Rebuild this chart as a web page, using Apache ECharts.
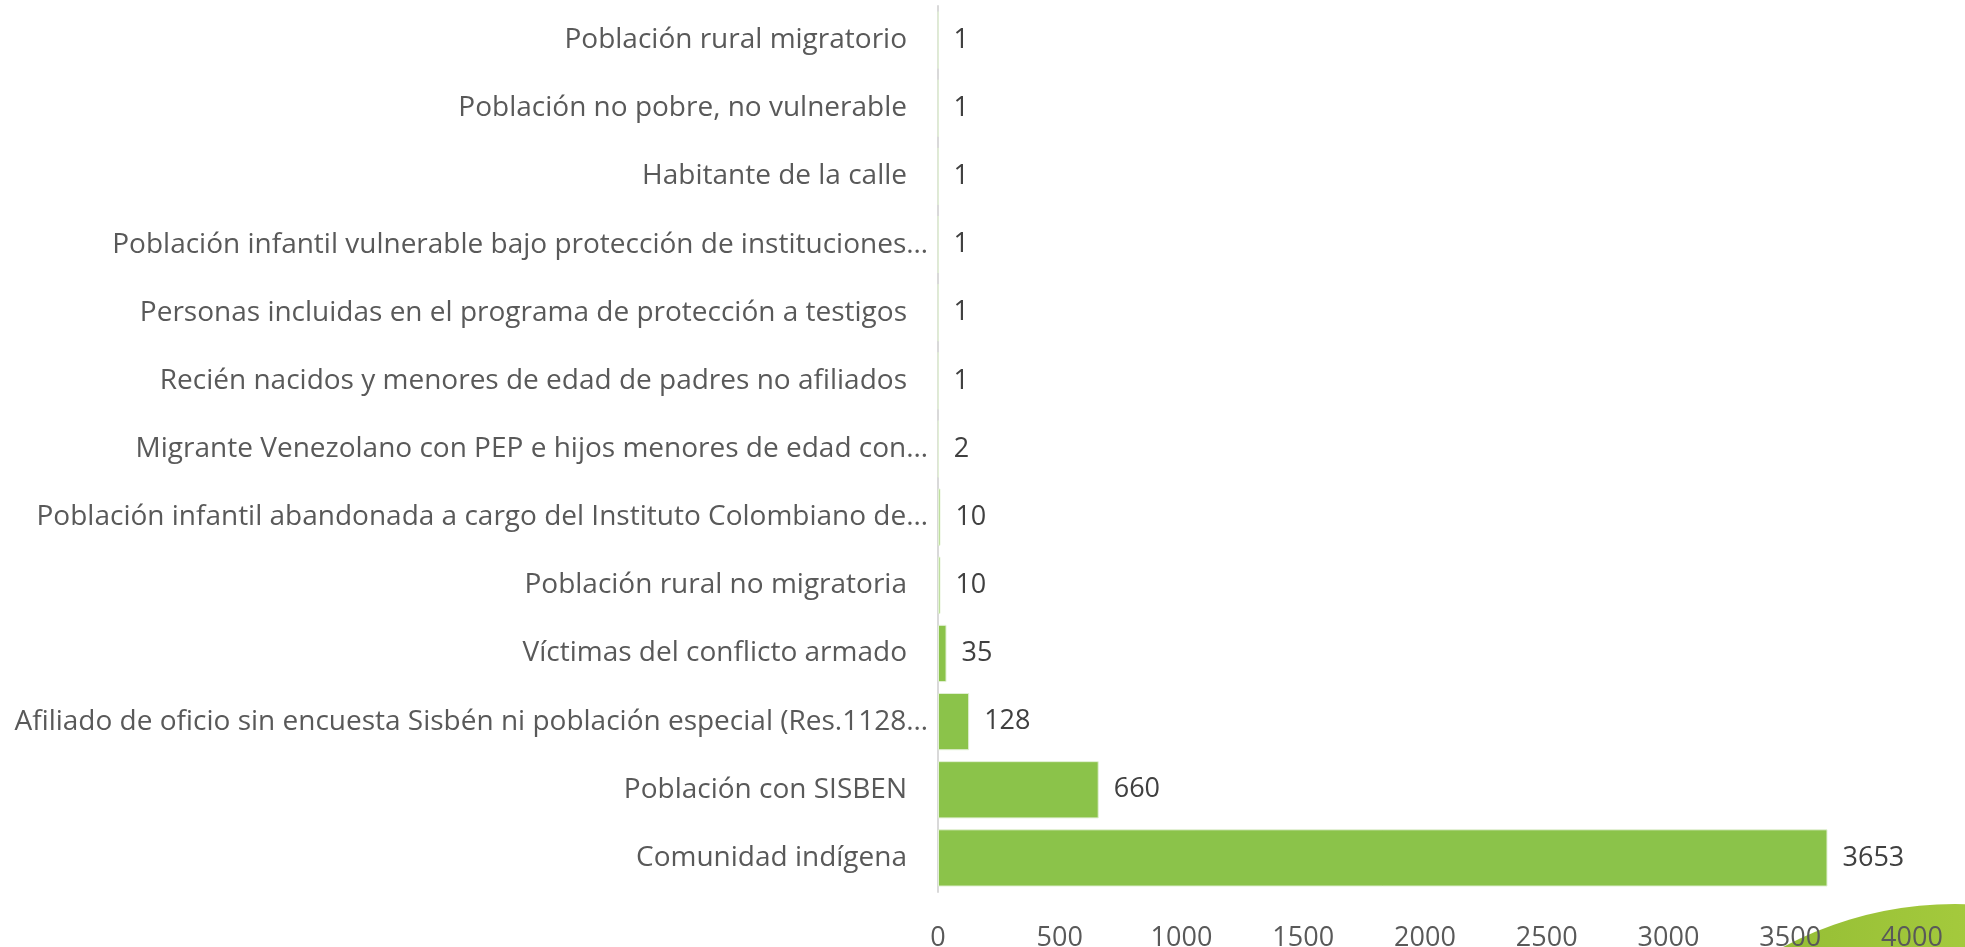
<!DOCTYPE html>
<html>
<head>
<meta charset="utf-8">
<title>Población por tipo</title>
<script src="https://cdn.jsdelivr.net/npm/echarts@6/dist/echarts.min.js"></script>
<style>
  html, body { margin: 0; padding: 0; background: #fff; }
  #chart { width: 1965px; height: 947px; }
</style>
</head>
<body>
<div id="chart"></div>
<script>
// categorías de arriba hacia abajo
const categories = [
  'Población rural migratorio',
  'Población no pobre, no vulnerable',
  'Habitante de la calle',
  'Población infantil vulnerable bajo protección de instituciones…',
  'Personas incluidas en el programa de protección a testigos',
  'Recién nacidos y menores de edad de padres no afiliados',
  'Migrante Venezolano con PEP e hijos menores de edad con…',
  'Población infantil abandonada a cargo del Instituto Colombiano de…',
  'Población rural no migratoria',
  'Víctimas del conflicto armado',
  'Afiliado de oficio sin encuesta Sisbén ni población especial (Res.1128…',
  'Población con SISBEN',
  'Comunidad indígena'
];
const values = [1, 1, 1, 1, 1, 1, 2, 10, 10, 35, 128, 660, 3653];
const xTicks = [0, 500, 1000, 1500, 2000, 2500, 3000, 3500, 4000];

const FONT = 'Open Sans';
const chart = echarts.init(document.getElementById('chart'));

// las etiquetas truncadas (con "…") quedan más cerca del eje, como en Excel
const yData = categories.map((c) => {
  if (c.endsWith('…')) {
    return { value: c, textStyle: { padding: [7, -21, 0, 0] } };
  }
  return c;
});

chart.setOption({
  animation: false,
  graphic: [
    {
      // adorno verde de la esquina inferior derecha
      type: 'circle',
      z: -10,
      silent: true,
      shape: { cx: 1955, cy: 1269, r: 365 },
      style: {
        fill: new echarts.graphic.LinearGradient(0, 0, 1, 0, [
          { offset: 0, color: '#86B22E' },
          { offset: 0.5, color: '#A3C93C' },
          { offset: 1, color: '#B5D44A' }
        ])
      }
    }
  ],
  grid: {
    left: 938,
    right: 53,
    top: 6,
    bottom: 55,
    containLabel: false,
    outerBoundsMode: 'none'
  },
  xAxis: {
    type: 'value',
    min: xTicks[0],
    max: xTicks[xTicks.length - 1],
    interval: 500,
    axisLine: { show: false },
    axisTick: { show: false },
    splitLine: { show: false },
    axisLabel: {
      margin: 33,
      color: '#595959',
      fontFamily: FONT,
      fontSize: 27,
      formatter: (v) => String(v)
    }
  },
  yAxis: {
    type: 'category',
    inverse: true,
    data: yData,
    axisLine: { show: true, lineStyle: { color: '#D9D9D9', width: 2 } },
    axisTick: { show: false },
    axisLabel: {
      margin: 31,
      padding: [7, 0, 0, 0],
      color: '#595959',
      fontFamily: FONT,
      fontSize: 28
    }
  },
  series: [
    {
      type: 'bar',
      data: values,
      barCategoryGap: '16%',
      itemStyle: { color: '#8BC34A', borderColor: '#E2F0D5', borderWidth: 1 },
      label: {
        show: true,
        position: 'right',
        distance: 15,
        padding: [7, 0, 0, 0],
        color: '#404040',
        fontFamily: FONT,
        fontSize: 27
      }
    }
  ]
});
</script>
</body>
</html>
